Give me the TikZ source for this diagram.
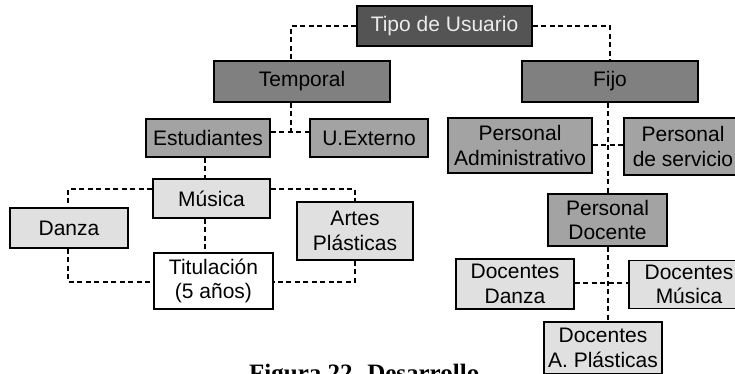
\documentclass[tikz,border=0pt]{standalone}
\usepackage{fontspec}
\setmainfont{Liberation Sans}
\newfontfamily\capfont{Liberation Serif}
\begin{document}
\begin{tikzpicture}[x=1pt,y=-1pt,
  box/.style={draw=black,line width=1.3pt,inner sep=0pt,align=center,
    font=\fontsize{21}{24.5}\selectfont},
  lvA/.style={box,fill=black!67,text=black!8},
  lvB/.style={box,fill=black!50},
  lvC/.style={box,fill=black!36},
  lvD/.style={box,fill=black!12},
  lvE/.style={box,fill=white},
  con/.style={line width=1.5pt,dash pattern=on 5pt off 3.5pt}]
\useasboundingbox (0,0) rectangle (735,373);
\begin{scope}
\clip (0,0) rectangle (735,373);
% nodes
\node[lvA,minimum width=175,minimum height=40] (tipo) at (444.5,26) {Tipo de Usuario};
\node[lvB,minimum width=176,minimum height=41] (temp) at (302,81.5) {Temporal};
\node[lvB,minimum width=176,minimum height=41] (fijo) at (610,81.5) {Fijo};
\node[lvC,minimum width=124,minimum height=38] (est) at (208,138) {Estudiantes};
\node[lvC,minimum width=118,minimum height=38] (uext) at (369,138) {U.Externo};
\node[lvD,minimum width=117,minimum height=39] (mus) at (211.5,198.5) {Música};
\node[lvD,minimum width=118,minimum height=40] (dan) at (69,228) {Danza};
\node[lvD,minimum width=116,minimum height=58] (art) at (355,231) {Artes\\Plásticas};
\node[lvE,minimum width=119,minimum height=56] (tit) at (213.5,281) {Titulación\\(5 años)};
\node[lvC,minimum width=144,minimum height=55] (padm) at (520,145.5) {Personal\\Administrativo};
\node[lvC,minimum width=118,minimum height=57] (pser) at (683,146.5) {Personal\\de servicio};
\node[lvC,minimum width=119,minimum height=52] (pdoc) at (607.5,220) {Personal\\Docente};
\node[lvD,minimum width=118,minimum height=50] (ddan) at (515,284) {Docentes\\Danza};
\node[lvD,minimum width=120,minimum height=48] (dmus) at (689,284.5) {Docentes\\Música};
\node[lvD,minimum width=118,minimum height=52] (dapl) at (603,348) {Docentes\\A. Plásticas};
% helper coordinates
\coordinate (tL) at (291,26);
\coordinate (tR) at (610,26);
\coordinate (eJ) at (291,132);
\coordinate (mL) at (68,189);
\coordinate (mR) at (355,189);
\coordinate (bL) at (68,282);
\coordinate (bR) at (355,282);
% connectors
\draw[con] (tipo.west |- tL) -- (tL) -- (tL |- temp.north);
\draw[con] (tipo.east |- tR) -- (tR) -- (tR |- fijo.north);
\draw[con] (eJ |- temp.south) -- (eJ);
\draw[con] (est.east |- eJ) -- (uext.west |- eJ);
\draw[con] (205,0 |- est.south) -- (205,0 |- mus.north);
\draw[con] (mus.west |- mL) -- (mL) -- (mL |- dan.north);
\draw[con] (mus.east |- mR) -- (mR) -- (mR |- art.north);
\draw[con] (205,0 |- mus.south) -- (205,0 |- tit.north);
\draw[con] (bL |- dan.south) -- (bL) -- (tit.west |- bL);
\draw[con] (bR |- art.south) -- (bR) -- (tit.east |- bR);
\draw[con] (608,0 |- fijo.south) -- (608,0 |- pdoc.north);
\draw[con] (padm.east |- 0,145) -- (pser.west |- 0,145);
\draw[con] (608,0 |- pdoc.south) -- (608,0 |- dapl.north);
\draw[con] (ddan.east |- 0,283) -- (dmus.west |- 0,283);
% caption (only its top is visible)
\node[anchor=base west,inner sep=0pt,font=\capfont\bfseries\fontsize{25}{27}\selectfont] (cap) at (249,381.5) {Figura 22. Desarrollo};
\end{scope}
\end{tikzpicture}
\end{document}
